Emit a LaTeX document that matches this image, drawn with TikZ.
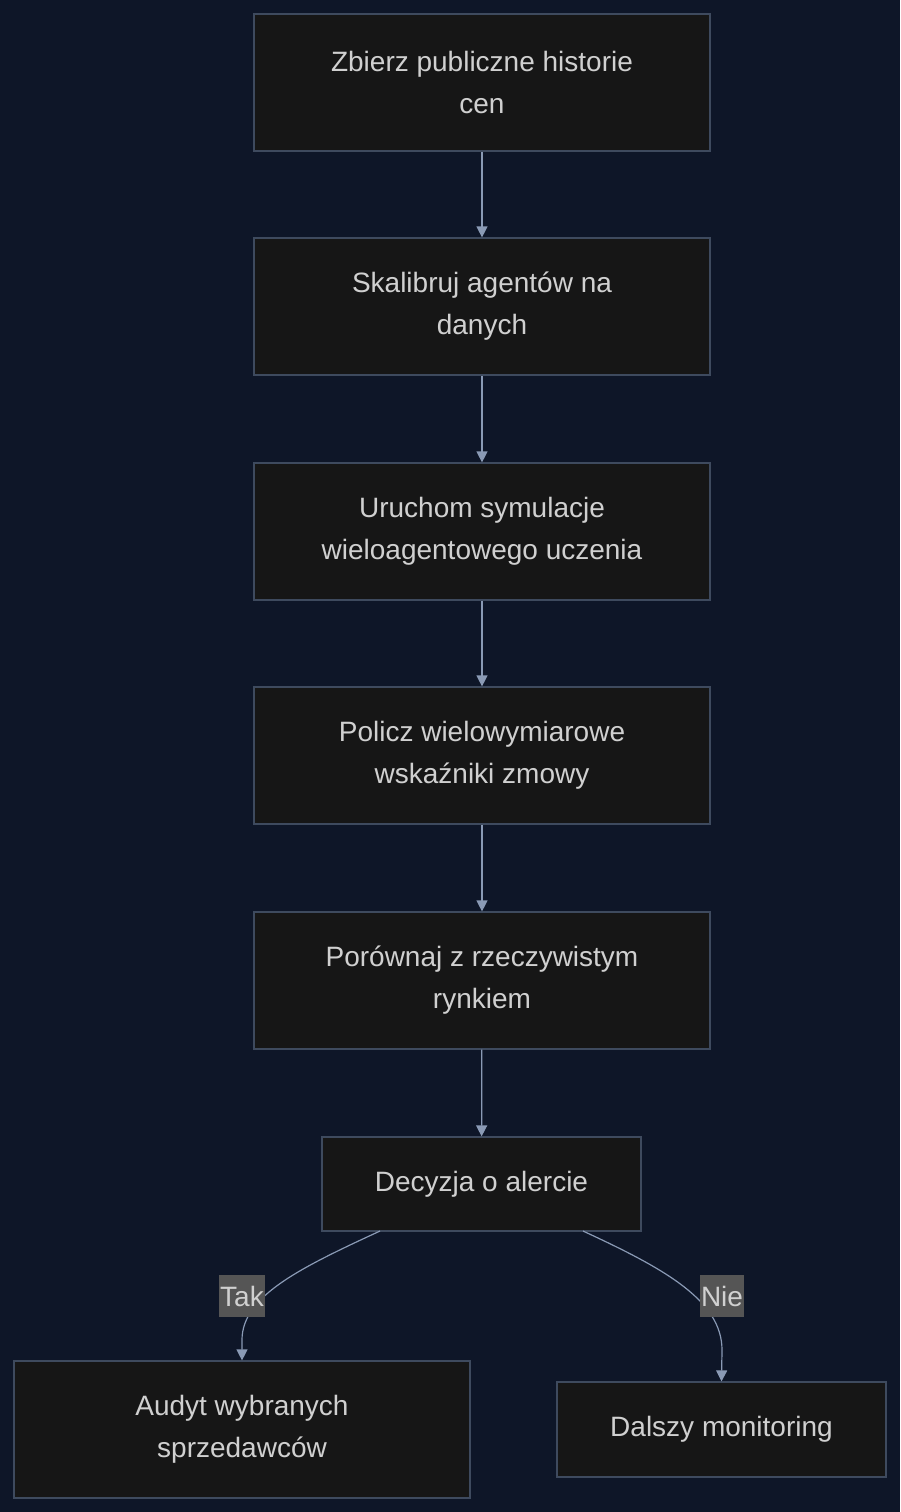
\documentclass[tikz,border=0pt]{standalone}
\usepackage{fontspec}
\setmainfont{Liberation Sans}
\usetikzlibrary{arrows.meta}
\definecolor{bg}{HTML}{0E1628}
\definecolor{boxf}{HTML}{161616}
\definecolor{boxd}{HTML}{3E4A5E}
\definecolor{txt}{HTML}{D0D0D0}
\definecolor{arr}{HTML}{8A9AB5}
\definecolor{lbl}{HTML}{555555}
\begin{document}
\begin{tikzpicture}[x=1pt,y=-1pt,
 box/.style={draw=boxd,fill=boxf,line width=1.2pt,text=txt,align=center,inner sep=0pt,font=\fontsize{28}{42}\selectfont},
 ar/.style={draw=arr,line width=1.2pt,-{Triangle[length=11pt,width=11pt]}},
 lab/.style={fill=lbl,text=txt,inner sep=1pt,font=\fontsize{28}{30}\selectfont,minimum height=42pt}]
\fill[bg] (0,0) rectangle (900,1512);
\useasboundingbox (0,0) rectangle (900,1512);
\node[box,minimum width=456pt,minimum height=137pt] (a) at (482,82.5) {Zbierz publiczne historie\\cen};
\node[box,minimum width=456pt,minimum height=137pt] (b) at (482,306.5) {Skalibruj agentów na\\danych};
\node[box,minimum width=456pt,minimum height=137pt] (c) at (482,531.5) {Uruchom symulacje\\wieloagentowego uczenia};
\node[box,minimum width=456pt,minimum height=137pt] (d) at (482,755.5) {Policz wielowymiarowe\\wskaźniki zmowy};
\node[box,minimum width=456pt,minimum height=137pt] (e) at (482,980.5) {Porównaj z rzeczywistym\\rynkiem};
\node[box,minimum width=319pt,minimum height=94pt] (f) at (481.5,1184) {Decyzja o alercie};
\node[box,minimum width=456pt,minimum height=137pt] (g) at (242,1429.5) {Audyt wybranych\\sprzedawców};
\node[box,minimum width=329pt,minimum height=95pt] (h) at (721.5,1429.5) {Dalszy monitoring};
\draw[ar] (a) -- (b);
\draw[ar] (b) -- (c);
\draw[ar] (c) -- (d);
\draw[ar] (d) -- (e);
\draw[ar] (e) -- (f);
\coordinate (f1) at (380,1231);
\coordinate (f2) at (583,1231);
\draw[ar] (f1) .. controls (300,1268) and (242,1296) .. (242,1340) -- (g.north -| 242,0);
\draw[ar] (f2) .. controls (663,1268) and (722,1300) .. (722,1350) -- (h.north);
\node[lab] (t) at (242,1296) {Tak};
\node[lab] (n) at (722,1296) {Nie};
\end{tikzpicture}
\end{document}
